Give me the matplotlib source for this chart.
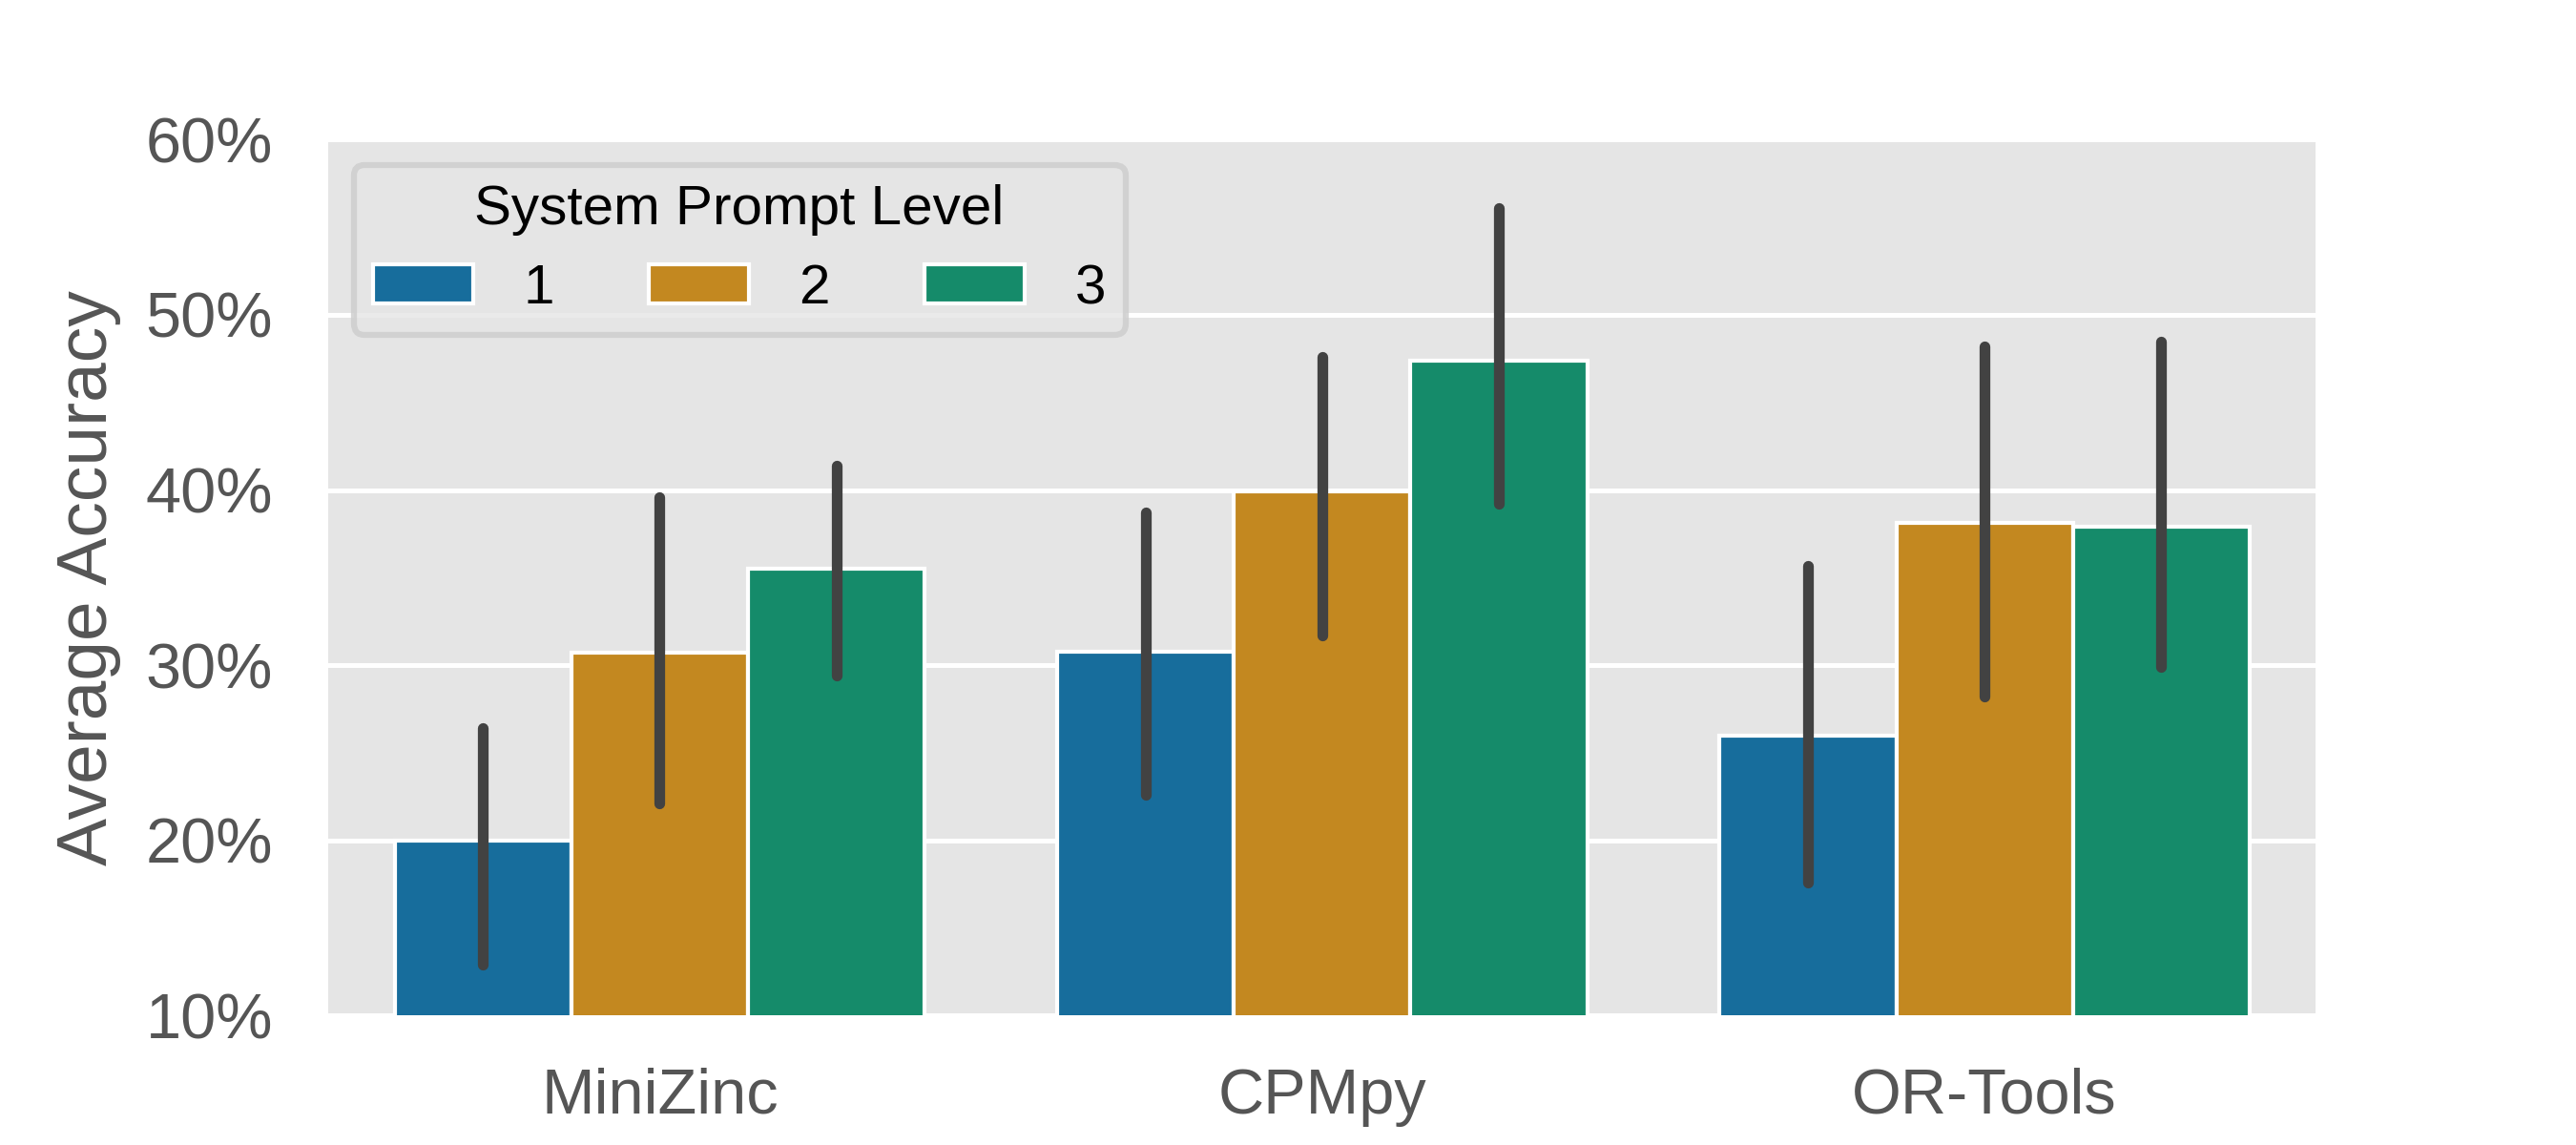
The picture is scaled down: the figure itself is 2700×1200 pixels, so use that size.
import numpy as np
import matplotlib.pyplot as plt
from matplotlib.ticker import PercentFormatter

plt.style.use('ggplot')
plt.rcParams['font.family'] = ['Liberation Sans', 'DejaVu Sans']

# values (percent)
solvers = ["MiniZinc", "CPMpy", "OR-Tools"]
levels = ["1", "2", "3"]
accuracy = {
    "1": [20.0, 30.8, 26.0],
    "2": [30.7, 39.9, 38.1],
    "3": [35.5, 47.4, 37.9],
}
err_low = {
    "1": [12.9, 22.6, 17.6],
    "2": [22.1, 31.7, 28.2],
    "3": [29.4, 39.2, 29.9],
}
err_high = {
    "1": [26.4, 38.7, 35.7],
    "2": [39.6, 47.6, 48.2],
    "3": [41.4, 56.1, 48.5],
}
colors = ["#176d9c", "#c38820", "#158b6a"]

fig = plt.figure(figsize=(9, 4), dpi=300)
ax = fig.add_axes([0.1275, 0.113, 0.7715, 0.765])

x = np.arange(len(solvers))
width = 0.8 / len(levels)

for i, lvl in enumerate(levels):
    pos = x - 0.4 + width * (i + 0.5)
    ax.bar(pos, accuracy[lvl], width=width, bottom=0, color=colors[i],
           edgecolor="white", linewidth=1.0, label=lvl, zorder=2)
    for p, lo, hi in zip(pos, err_low[lvl], err_high[lvl]):
        ax.plot([p, p], [lo, hi], color="#424242", lw=2.7,
                solid_capstyle="round", zorder=3)

ax.set_xlim(-0.5, 2.5)
ax.set_ylim(10, 60)
ax.set_yticks([10, 20, 30, 40, 50, 60])
ax.yaxis.set_major_formatter(PercentFormatter(decimals=0))
ax.set_xticks(x)
ax.set_xticklabels(solvers)
ax.xaxis.grid(False)
ax.yaxis.grid(True, color="white", lw=1.2)
ax.set_axisbelow(True)
ax.tick_params(axis="y", length=0, labelsize=16, colors="#555555", pad=14)
ax.tick_params(axis="x", length=0, labelsize=16, colors="#555555", pad=13)
ax.set_ylabel("Average Accuracy", fontsize=18, color="#555555", labelpad=6)
for s in ax.spines.values():
    s.set_visible(False)

leg = ax.legend(title="System Prompt Level", ncol=3, loc="upper left",
                fontsize=14, title_fontsize=14, handlelength=1.8,
                handletextpad=0.9, columnspacing=1.7, frameon=True,
                fancybox=True, borderaxespad=0.45, borderpad=0.35)
leg.get_frame().set_edgecolor("#cccccc")
leg.get_frame().set_linewidth(1.5)

plt.savefig("out.png", dpi=300)
